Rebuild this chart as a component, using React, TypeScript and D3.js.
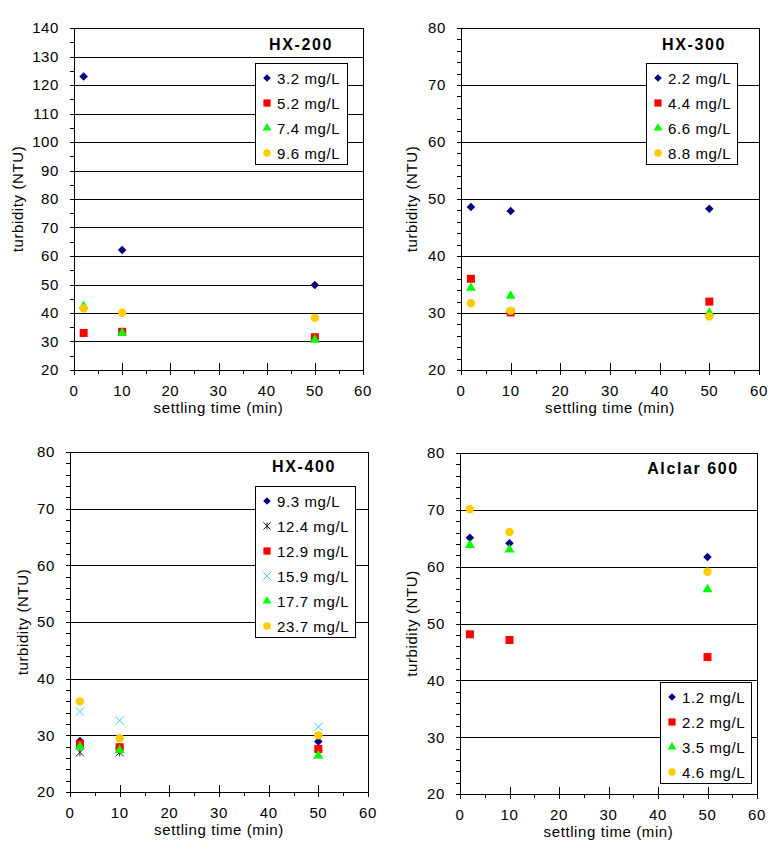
import React from 'react';
import * as d3 from 'd3';

const TIMES = [2, 10, 50];
const X_TICKS = [0, 10, 20, 30, 40, 50, 60];
const FONT = '"Liberation Sans", Arial, sans-serif';

// HX-200
const hx200Labels = ['3.2 mg/L', '5.2 mg/L', '7.4 mg/L', '9.6 mg/L'];
const hx200Values = [
  [123, 62.1, 49.8],
  [33, 33.4, 31.5],
  [42.4, 33, 30.6],
  [41.6, 40.1, 38.3],
];
// HX-300
const hx300Labels = ['2.2 mg/L', '4.4 mg/L', '6.6 mg/L', '8.8 mg/L'];
const hx300Values = [
  [48.6, 47.9, 48.3],
  [36, 30.1, 32],
  [34.4, 33, 30],
  [31.7, 30.4, 29.4],
];
// HX-400
const hx400Labels = ['9.3 mg/L', '12.4 mg/L', '12.9 mg/L', '15.9 mg/L', '17.7 mg/L', '23.7 mg/L'];
const hx400Values = [
  [29, 27.9, 28.9],
  [27, 27, 26.6],
  [28.5, 27.9, 27.6],
  [34.2, 32.6, 31.5],
  [28, 27.4, 26.4],
  [36, 29.5, 30],
];
// Alclar 600
const alclarLabels = ['1.2 mg/L', '2.2 mg/L', '3.5 mg/L', '4.6 mg/L'];
const alclarValues = [
  [65.1, 64.1, 61.7],
  [48.1, 47.1, 44.1],
  [63.8, 63, 56],
  [70.1, 66.1, 59.1],
];

const NAVY = '#000080';
const RED = '#ff0000';
const GREEN = '#00ff00';
const YELLOW = '#ffcc00';
const CYAN = '#33ccff';
const DKGREEN = '#003300';

type Marker = 'diamond' | 'square' | 'triangle' | 'circle' | 'x' | 'star';
type Series = { label: string; values: number[]; marker: Marker; color: string };

const four = (labels: string[], values: number[][]): Series[] => [
  { label: labels[0], values: values[0], marker: 'diamond', color: NAVY },
  { label: labels[1], values: values[1], marker: 'square', color: RED },
  { label: labels[2], values: values[2], marker: 'triangle', color: GREEN },
  { label: labels[3], values: values[3], marker: 'circle', color: YELLOW },
];

const hx400Series: Series[] = [
  { label: hx400Labels[0], values: hx400Values[0], marker: 'diamond', color: NAVY },
  { label: hx400Labels[1], values: hx400Values[1], marker: 'star', color: DKGREEN },
  { label: hx400Labels[2], values: hx400Values[2], marker: 'square', color: RED },
  { label: hx400Labels[3], values: hx400Values[3], marker: 'x', color: CYAN },
  { label: hx400Labels[4], values: hx400Values[4], marker: 'triangle', color: GREEN },
  { label: hx400Labels[5], values: hx400Values[5], marker: 'circle', color: YELLOW },
];

const PANELS = [
  {
    title: 'HX-200', series: four(hx200Labels, hx200Values), yDomain: [20, 140], minor: 5,
    plot: { x: 74, y: 28, w: 289, h: 342 }, titleX: 301, titleY: 50,
    legend: { x: 255, y: 63, w: 92, h: 101 }, yTitleX: 18,
  },
  {
    title: 'HX-300', series: four(hx300Labels, hx300Values), yDomain: [20, 80], minor: 2,
    plot: { x: 461, y: 28, w: 298, h: 342 }, titleX: 694, titleY: 50,
    legend: { x: 646, y: 63, w: 91, h: 101 }, yTitleX: 412,
  },
  {
    title: 'HX-400', series: hx400Series, yDomain: [20, 80], minor: 2,
    plot: { x: 70, y: 452, w: 298, h: 340 }, titleX: 304, titleY: 472,
    legend: { x: 255, y: 486, w: 100, h: 151 }, yTitleX: 23,
  },
  {
    title: 'Alclar 600', series: four(alclarLabels, alclarValues), yDomain: [20, 80], minor: 2,
    plot: { x: 460, y: 453, w: 297, h: 341 }, titleX: 693, titleY: 474,
    legend: { x: 660, y: 682, w: 91, h: 101 }, yTitleX: 412,
  },
];

function MarkerShape({ type, color, cx, cy, s = 1 }: { type: Marker; color: string; cx: number; cy: number; s?: number }) {
  const t = `translate(${cx},${cy})`;
  if (type === 'diamond') {
    const p = d3.symbol(d3.symbolSquare, 36 * s * s)();
    return <path d={p!} transform={`${t} rotate(45)`} fill={color} />;
  }
  if (type === 'square') {
    return <path d={d3.symbol(d3.symbolSquare, 64 * s * s)()!} transform={t} fill={color} />;
  }
  if (type === 'triangle') {
    return <path d={d3.symbol(d3.symbolTriangle, 42 * s * s)()!} transform={t} fill={color} />;
  }
  if (type === 'circle') {
    return <circle cx={cx} cy={cy} r={4.2 * s} fill={color} />;
  }
  const r = 4 * s;
  if (type === 'x') {
    return (
      <path d={`M${-r},${-r}L${r},${r}M${-r},${r}L${r},${-r}`} transform={t} stroke={color} strokeWidth={1} fill="none" />
    );
  }
  return (
    <path
      d={`M${-r},${-r}L${r},${r}M${-r},${r}L${r},${-r}M0,${-r}L0,${r}`}
      transform={t}
      stroke={color}
      strokeWidth={1}
      fill="none"
    />
  );
}

function Panel({ p }: { p: (typeof PANELS)[number] }) {
  const { plot, legend } = p;
  const x = d3.scaleLinear().domain([0, 60]).range([plot.x, plot.x + plot.w]);
  const y = d3.scaleLinear().domain(p.yDomain).range([plot.y + plot.h, plot.y]);
  const majors = d3.range(p.yDomain[0], p.yDomain[1] + 1, 10);
  const minors = d3.range(p.yDomain[0], p.yDomain[1] + 0.01, p.minor).filter(v => v % 10 !== 0);
  const xMinors = d3.range(5, 60, 10);
  const bottom = plot.y + plot.h;
  const textStyle = { fontFamily: FONT, fontSize: 15, letterSpacing: 0.6 } as const;

  return (
    <g>
      {majors.map(v => (
        <line key={'g' + v} x1={plot.x - 4} x2={plot.x + plot.w} y1={Math.round(y(v)) + 0.5} y2={Math.round(y(v)) + 0.5} stroke="#000" />
      ))}
      {minors.map(v => (
        <line key={'m' + v} x1={plot.x - 4} x2={plot.x} y1={Math.round(y(v)) + 0.5} y2={Math.round(y(v)) + 0.5} stroke="#000" />
      ))}
      <rect x={plot.x + 0.5} y={plot.y + 0.5} width={plot.w} height={plot.h} fill="none" stroke="#000" />
      {X_TICKS.map(v => (
        <line key={'x' + v} x1={Math.round(x(v)) + 0.5} x2={Math.round(x(v)) + 0.5} y1={bottom - 7} y2={bottom + 5} stroke="#000" />
      ))}
      {xMinors.map(v => (
        <line key={'xm' + v} x1={Math.round(x(v)) + 0.5} x2={Math.round(x(v)) + 0.5} y1={bottom} y2={bottom + 4} stroke="#000" />
      ))}
      {majors.map(v => (
        <text key={'yl' + v} x={plot.x - 15} y={y(v)} dy="0.36em" textAnchor="end" style={textStyle}>
          {v}
        </text>
      ))}
      {X_TICKS.map(v => (
        <text key={'xl' + v} x={x(v)} y={bottom + 26} textAnchor="middle" style={textStyle}>
          {v}
        </text>
      ))}
      <text x={plot.x + plot.w / 2} y={bottom + 43} textAnchor="middle" style={textStyle}>
        settling time (min)
      </text>
      <text
        transform={`translate(${p.yTitleX},${plot.y + plot.h / 2}) rotate(-90)`}
        dy="0.36em"
        textAnchor="middle"
        style={textStyle}
      >
        turbidity (NTU)
      </text>
      <text x={p.titleX} y={p.titleY} textAnchor="middle" style={{ fontFamily: FONT, fontSize: 16, fontWeight: 'bold', letterSpacing: 1.6 }}>
        {p.title}
      </text>
      {p.series.map(s =>
        s.values.map((v, i) => (
          <MarkerShape key={s.label + i} type={s.marker} color={s.color} cx={x(TIMES[i])} cy={y(v)} />
        ))
      )}
      <rect x={legend.x + 0.5} y={legend.y + 0.5} width={legend.w} height={legend.h} fill="#fff" stroke="#000" />
      {p.series.map((s, i) => {
        const cy = legend.y + 15 + i * 25;
        return (
          <g key={'lg' + i}>
            <MarkerShape type={s.marker} color={s.color} cx={legend.x + 12} cy={cy} s={0.9} />
            <text x={legend.x + 22} y={cy + 5.5} style={textStyle}>
              {s.label}
            </text>
          </g>
        );
      })}
    </g>
  );
}

export default function App() {
  return (
    <div style={{ position: 'absolute', left: 0, top: 0 }}>
      <svg width={779} height={852} style={{ display: 'block', background: '#fff' }}>
        {PANELS.map(p => (
          <Panel key={p.title} p={p} />
        ))}
      </svg>
    </div>
  );
}
